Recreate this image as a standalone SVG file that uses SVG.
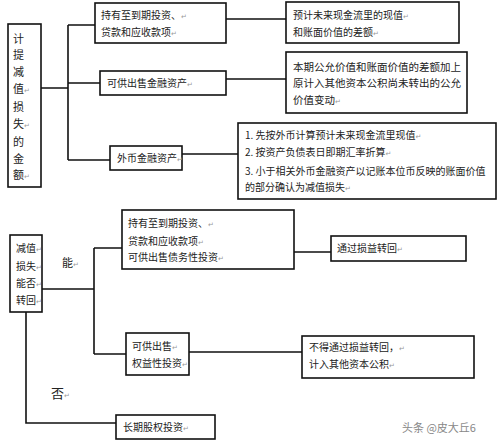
<svg xmlns="http://www.w3.org/2000/svg" width="500" height="445" viewBox="0 0 500 445">
<style>
.b{fill:#fff;stroke:#111;stroke-width:1.6}
.c{fill:none;stroke:#111;stroke-width:1.6}
text{font-family:"Noto Sans CJK SC","Noto Sans",sans-serif;font-size:10px;fill:#222}
.pm{font-family:"DejaVu Sans",sans-serif;font-size:7px;fill:#999}
.wm{font-size:11px;fill:#888}
</style>
<rect width="500" height="445" fill="#fff"/>
<g id="connectors">
<path class="c" d="M41,88H68M68,25V160M68,25H95M68,83H100M68,160H110M226,19H286M226,79H286M182,154H238"/>
<path class="c" d="M42,289H94M94,248V354M94,248H122M94,354H126M294,252H331M189,352H302M26,293V423H116"/>
</g>
<g id="n-left">
<rect class="b" x="8" y="24" width="33" height="163"/>
<text font-size="11" style="font-size:11px">
<tspan x="13" y="43">计</tspan>
<tspan x="13" y="59">提</tspan>
<tspan x="13" y="76">减</tspan>
<tspan x="13" y="93">值<tspan class="pm">↵</tspan></tspan>
<tspan x="13" y="111">损</tspan>
<tspan x="13" y="128">失<tspan class="pm">↵</tspan></tspan>
<tspan x="13" y="146">的</tspan>
<tspan x="13" y="163">金</tspan>
<tspan x="13" y="179">额<tspan class="pm">↵</tspan></tspan>
</text>
</g>
<g id="n-htm">
<rect class="b" x="95" y="3" width="131" height="40"/>
<text x="101" y="19">持有至到期投资、<tspan class="pm">↵</tspan></text>
<text x="101" y="36">贷款和应收款项<tspan class="pm">↵</tspan></text>
</g>
<g id="n-pv">
<rect class="b" x="286" y="2" width="173" height="41"/>
<text x="293" y="19">预计未来现金流里的现值<tspan class="pm">↵</tspan></text>
<text x="293" y="36">和账面价值的差额<tspan class="pm">↵</tspan></text>
</g>
<g id="n-afs">
<rect class="b" x="100" y="71" width="126" height="24"/>
<text x="107" y="87">可供出售金融资产<tspan class="pm">↵</tspan></text>
</g>
<g id="n-fv">
<rect class="b" x="286" y="52" width="181" height="61"/>
<text x="293" y="71" style="font-size:10.5px">本期公允价值和账面价值的差额加上</text>
<text x="293" y="87" style="font-size:10.5px">原计入其他资本公积尚未转出的公允</text>
<text x="293" y="104" style="font-size:10.5px">价值变动<tspan class="pm">↵</tspan></text>
</g>
<g id="n-fx">
<rect class="b" x="110" y="146" width="72" height="24"/>
<text x="117" y="162">外币金融资产<tspan class="pm">↵</tspan></text>
</g>
<g id="n-fxsteps">
<rect class="b" x="238" y="123" width="258" height="76"/>
<text x="245" y="139">1. 先按外币计算预计未来现金流里现值<tspan class="pm">↵</tspan></text>
<text x="245" y="156">2. 按资产负债表日即期汇率折算<tspan class="pm">↵</tspan></text>
<text x="245" y="175">3. 小于相关外币金融资产以记账本位币反映的账面价值</text>
<text x="245" y="191">的部分确认为减值损失<tspan class="pm">↵</tspan></text>
</g>
<g id="n-rev">
<rect class="b" x="10" y="235" width="32" height="77"/>
<text x="16" y="252">减值<tspan class="pm">↵</tspan></text>
<text x="16" y="270">损失<tspan class="pm">↵</tspan></text>
<text x="16" y="287">能否<tspan class="pm">↵</tspan></text>
<text x="16" y="304">转回<tspan class="pm">↵</tspan></text>
</g>
<g id="l-yes"><text x="62" y="267" style="font-size:11px">能<tspan class="pm">↵</tspan></text></g>
<g id="l-no"><text x="51" y="398" style="font-size:13px">否<tspan class="pm">↵</tspan></text></g>
<g id="n-debt">
<rect class="b" x="122" y="210" width="172" height="59"/>
<text x="128" y="227">持有至到期投资、<tspan class="pm">↵</tspan></text>
<text x="128" y="245">贷款和应收款项<tspan class="pm">↵</tspan></text>
<text x="128" y="261">可供出售债务性投资<tspan class="pm">↵</tspan></text>
</g>
<g id="n-pl">
<rect class="b" x="331" y="236" width="135" height="25"/>
<text x="337" y="252">通过损益转回<tspan class="pm">↵</tspan></text>
</g>
<g id="n-eq">
<rect class="b" x="126" y="333" width="63" height="42"/>
<text x="132" y="350">可供出售<tspan class="pm">↵</tspan></text>
<text x="132" y="367">权益性投资<tspan class="pm">↵</tspan></text>
</g>
<g id="n-oci">
<rect class="b" x="302" y="336" width="172" height="42"/>
<text x="309" y="351">不得通过损益转回，<tspan class="pm">↵</tspan></text>
<text x="309" y="368">计入其他资本公积<tspan class="pm">↵</tspan></text>
</g>
<g id="n-lt">
<rect class="b" x="116" y="415" width="99" height="24"/>
<text x="123" y="431">长期股权投资<tspan class="pm">↵</tspan></text>
</g>
<text class="wm" x="402" y="432">头条 @皮大丘6</text>
</svg>
